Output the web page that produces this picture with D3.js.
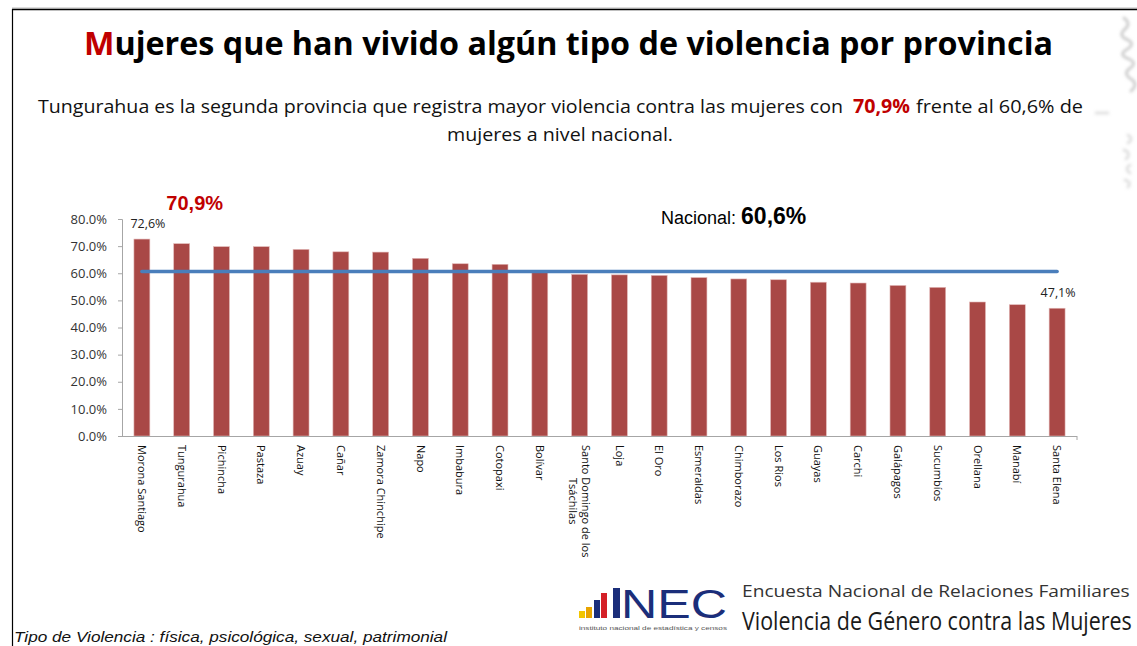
<!DOCTYPE html>
<html>
<head>
<meta charset="utf-8">
<script src="https://cdn.jsdelivr.net/npm/d3@7"></script>
<style>
  body { margin: 0; background: #fff; }
  svg { display: block; }
</style>
</head>
<body>
<div id="chart"></div>
<script>
var W = 1137, H = 646;

// data
var provinces = ["Morona Santiago", "Tungurahua", "Pichincha", "Pastaza", "Azuay", "Cañar",
                 "Zamora Chinchipe", "Napo", "Imbabura", "Cotopaxi", "Bolívar",
                 "Santo Domingo de los|Tsáchilas", "Loja", "El Oro", "Esmeraldas", "Chimborazo",
                 "Los Rios", "Guayas", "Carchi", "Galápagos", "Sucumbíos", "Orellana", "Manabí", "Santa Elena"];
var values = [72.6, 70.9, 69.8, 69.8, 68.8, 67.9, 67.8, 65.5, 63.5, 63.3, 60.9,
              59.6, 59.4, 59.2, 58.4, 57.9, 57.6, 56.7, 56.4, 55.5, 54.8, 49.4, 48.4, 47.1];
var nacional = 60.6;
var yTicks = [0, 10, 20, 30, 40, 50, 60, 70, 80];
var labelled = ["Morona Santiago", "Santa Elena"];

var svg = d3.select("#chart").append("svg")
    .attr("width", W)
    .attr("height", H);

// slide frame
svg.append("line").attr("x1", 12).attr("x2", W).attr("y1", 8).attr("y2", 8)
   .attr("stroke", "#bbb").attr("stroke-width", 1);
svg.append("line").attr("x1", 12).attr("x2", W).attr("y1", 9.5).attr("y2", 9.5)
   .attr("stroke", "#000").attr("stroke-width", 1.5);
svg.append("line").attr("x1", 12.5).attr("x2", 12.5).attr("y1", 9).attr("y2", H)
   .attr("stroke", "#000").attr("stroke-width", 1.2);

// faint texture on the right edge
var defs = svg.append("defs");
defs.append("filter").attr("id", "blur").append("feGaussianBlur").attr("stdDeviation", 1.5);
var tex = svg.append("g").attr("filter", "url(#blur)").attr("fill", "none")
    .attr("stroke", "#c4c4c4").attr("stroke-width", 3).attr("stroke-linecap", "round");
tex.append("path").attr("d", "M1124,18 q8,6 0,12 q-6,6 4,10 q8,4 -2,10 q-8,5 3,9 q9,4 0,10 q-6,5 2,10 q8,5 0,12").attr("opacity", 0.8);
tex.append("path").attr("d", "M1128,135 q6,4 0,8 M1124,150 q8,3 2,9 M1130,165 q-6,4 0,8 M1125,180 q7,2 3,7").attr("opacity", 0.5);
tex.append("path").attr("d", "M1096,113 l12,0").attr("opacity", 0.5);

// title
var title = svg.append("text")
    .attr("x", 84).attr("y", 55)
    .attr("textLength", 969).attr("lengthAdjust", "spacingAndGlyphs")
    .style("font-family", "'Open Sans', sans-serif")
    .style("font-weight", "bold")
    .style("font-size", "33px")
    .attr("fill", "#000");
title.append("tspan").attr("fill", "#C00000").text("M");
title.append("tspan").text("ujeres que han vivido algún tipo de violencia por provincia");

// subtitle
function sub(txt, x, y, len, opts) {
  opts = opts || {};
  svg.append("text")
     .attr("x", x).attr("y", y)
     .attr("textLength", len).attr("lengthAdjust", "spacingAndGlyphs")
     .style("font-family", "'Open Sans', sans-serif")
     .style("font-size", "19px")
     .style("font-weight", opts.bold ? "bold" : "normal")
     .attr("fill", opts.color || "#111")
     .text(txt);
}
sub("Tungurahua es la segunda provincia que registra mayor violencia contra las mujeres con", 38, 113, 805);
sub("70,9%", 853, 113, 57, {bold: true, color: "#C00000"});
sub("frente al 60,6% de", 916, 113, 167);
sub("mujeres a nivel nacional.", 447, 141, 226);

// chart
var x = d3.scaleBand()
    .domain(provinces)
    .range([122, 1077])
    .paddingInner(0.6)
    .paddingOuter(0.3);

var y = d3.scaleLinear()
    .domain([0, 80])
    .range([436, 219]);

var yAxis = svg.append("g")
    .attr("transform", "translate(122,0)")
    .call(d3.axisLeft(y)
      .tickValues(yTicks)
      .tickSize(4)
      .tickPadding(11)
      .tickFormat(function(d) { return d.toFixed(1) + "%"; }));
yAxis.select(".domain").attr("stroke", "#a6a6a6");
yAxis.selectAll(".tick line").attr("stroke", "#a6a6a6");
yAxis.selectAll("text")
    .style("font-family", "'Open Sans', sans-serif")
    .style("font-size", "13px")
    .attr("fill", "#333");

// bars
svg.append("g")
   .selectAll("rect")
   .data(values)
   .enter().append("rect")
   .attr("x", function(d, i) { return x(provinces[i]); })
   .attr("y", function(d) { return y(d); })
   .attr("width", x.bandwidth())
   .attr("height", function(d) { return y(0) - y(d); })
   .attr("fill", "#A94846")
   .attr("stroke", "#E2B7B6")
   .attr("stroke-width", 0.6);

// x axis line
svg.append("line")
   .attr("x1", 122).attr("x2", 1077)
   .attr("y1", y(0) + 0.5).attr("y2", y(0) + 0.5)
   .attr("stroke", "#a6a6a6");
svg.append("line")
   .attr("x1", 1077).attr("x2", 1077)
   .attr("y1", y(0)).attr("y2", y(0) + 4)
   .attr("stroke", "#a6a6a6");

// category labels, rotated
var cat = svg.append("g")
   .selectAll("g")
   .data(provinces)
   .enter().append("g")
   .attr("transform", function(d) {
     return "translate(" + (x(d) + x.bandwidth() / 2) + ",445) rotate(90)";
   });
cat.each(function(d) {
  var g = d3.select(this);
  var lines = d.split("|");
  var style = function(t) {
    t.style("font-family", "'Open Sans', sans-serif")
     .style("font-size", "11px")
     .attr("fill", "#111");
  };
  if (lines.length === 1) {
    g.append("text").attr("x", 0).attr("y", 0).attr("dy", "0.35em").text(d).call(style);
  } else {
    var first = g.append("text").attr("x", 0).attr("y", -6.5).attr("dy", "0.35em").text(lines[0]).call(style);
    var len = first.node().getComputedTextLength();
    g.append("text").attr("x", len / 2).attr("y", 6.5).attr("dy", "0.35em")
      .attr("text-anchor", "middle").text(lines[1]).call(style);
  }
});

// national line
var first = provinces[0], last = provinces[provinces.length - 1];
svg.append("line")
   .attr("x1", x(first) + x.bandwidth() / 2)
   .attr("x2", x(last) + x.bandwidth() / 2)
   .attr("y1", y(nacional)).attr("y2", y(nacional))
   .attr("stroke", "#4A7EBB")
   .attr("stroke-width", 3.5)
   .attr("stroke-linecap", "round");

// value labels
labelled.forEach(function(p) {
  var v = values[provinces.indexOf(p)];
  svg.append("text")
     .attr("x", x(p) + x.bandwidth() / 2 + (p === first ? 6 : 1))
     .attr("y", y(v) - 11)
     .attr("text-anchor", "middle")
     .style("font-family", "'Open Sans', sans-serif")
     .style("font-size", "12.5px")
     .attr("fill", "#222")
     .text(String(v).replace(".", ",") + "%");
});

// highlighted Tungurahua value
var tv = values[provinces.indexOf("Tungurahua")];
svg.append("text")
   .attr("x", x("Tungurahua") + x.bandwidth() / 2 + 13)
   .attr("y", y(tv) - 34)
   .attr("text-anchor", "middle")
   .style("font-family", "'Liberation Sans', Arial, sans-serif")
   .style("font-weight", "bold")
   .style("font-size", "20px")
   .attr("fill", "#C00000")
   .text(String(tv).replace(".", ",") + "%");

// national annotation
var nat = svg.append("text")
   .attr("x", 661)
   .attr("y", y(nacional) - 48)
   .style("font-family", "'Liberation Sans', Arial, sans-serif")
   .attr("fill", "#000");
nat.append("tspan").style("font-size", "18px").text("Nacional: ");
nat.append("tspan").style("font-size", "23px").style("font-weight", "bold")
   .text(String(nacional).replace(".", ",") + "%");

// footer note
svg.append("text")
   .attr("x", 14).attr("y", 642)
   .style("font-family", "'Liberation Sans', Arial, sans-serif")
   .style("font-style", "italic")
   .style("font-size", "14px")
   .attr("fill", "#111")
   .attr("textLength", 433).attr("lengthAdjust", "spacingAndGlyphs")
   .text("Tipo de Violencia :  física, psicológica, sexual, patrimonial");

// INEC logo
var logoBars = [
  {x: 579, h: 7, c: "#F2C500"},
  {x: 586, h: 11, c: "#E8A400"},
  {x: 594, h: 18, c: "#1B2E7A"},
  {x: 601, h: 25, c: "#D42027"},
  {x: 613, h: 30, c: "#1B2E7A"}
];
svg.append("g").selectAll("rect").data(logoBars).enter().append("rect")
   .attr("x", function(d) { return d.x; })
   .attr("y", function(d) { return 618 - d.h; })
   .attr("width", function(d, i) { return i === 4 ? 7 : 6; })
   .attr("height", function(d) { return d.h; })
   .attr("fill", function(d) { return d.c; });
svg.append("text")
   .attr("x", 621).attr("y", 618)
   .attr("textLength", 106).attr("lengthAdjust", "spacingAndGlyphs")
   .style("font-family", "'Liberation Sans', Arial, sans-serif")
   .style("font-size", "40px")
   .attr("fill", "#1B2E7A")
   .text("NEC");
svg.append("text")
   .attr("x", 579).attr("y", 630)
   .attr("textLength", 148).attr("lengthAdjust", "spacingAndGlyphs")
   .style("font-family", "'Liberation Sans', Arial, sans-serif")
   .style("font-size", "5px")
   .attr("fill", "#555")
   .text("instituto nacional de estadística y censos");

// survey name, squeezed horizontally to fit the slide edge
function squeezed(txt, tx, ty, size, color, target) {
  var t = svg.append("text")
     .style("font-family", "'Open Sans', sans-serif")
     .style("font-size", size + "px")
     .attr("fill", color)
     .text(txt);
  var k = target / t.node().getComputedTextLength();
  t.attr("transform", "translate(" + tx + "," + ty + ") scale(" + k + ",1)");
}
squeezed("Encuesta Nacional de Relaciones Familiares", 742, 597, 16, "#333", 388);
squeezed("Violencia de Género contra las Mujeres", 742, 630, 25, "#1a1a1a", 390);
</script>
</body>
</html>
